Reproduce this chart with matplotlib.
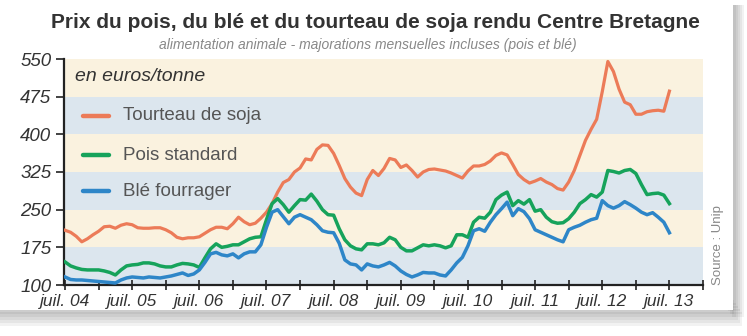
import matplotlib
matplotlib.use("Agg")
import matplotlib.pyplot as plt
from matplotlib import font_manager as fm
from matplotlib.lines import Line2D
from matplotlib.patches import Rectangle

names = {f.name for f in fm.fontManager.ttflist}
NARROW = "Liberation Sans Narrow" if "Liberation Sans Narrow" in names else "Liberation Sans"

# ---------------- data (monthly, juil. 2004 -> juil. 2013) ----------------
soja = [209, 205, 197, 186, 192, 200, 207, 216, 217, 213, 219, 222,
        220, 214, 213, 213, 214, 214, 210, 204, 195, 192, 194, 194,
        196, 203, 210, 215, 215, 212, 222, 235, 226, 220, 223, 233,
        245, 262, 285, 304, 310, 325, 333, 351, 349, 370, 379, 378,
        362, 338, 312, 295, 283, 278, 310, 328, 318, 332, 352, 349,
        334, 339, 328, 315, 325, 330, 331, 329, 327, 323, 318, 313,
        327, 337, 337, 340, 347, 358, 363, 359, 340, 320, 310, 303,
        307, 312, 305, 300, 292, 289, 305, 328, 358, 388, 410, 430,
        485, 545, 525, 490, 464, 459, 440, 440, 445, 447, 448, 446,
        486]
pois = [146, 138, 134, 131, 130, 130, 130, 128, 125, 120, 130, 138,
        140, 141, 144, 144, 142, 138, 136, 136, 140, 143, 142, 140,
        135, 154, 172, 182, 175, 177, 180, 180, 186, 192, 195, 196,
        230, 262, 272, 260, 245, 258, 270, 269, 281, 267, 250, 240,
        239, 212, 190, 178, 172, 170, 182, 182, 180, 184, 195, 190,
        175, 168, 168, 174, 180, 178, 180, 178, 174, 178, 200, 200,
        195, 225, 235, 233, 245, 270, 279, 285, 258, 268, 261, 270,
        247, 250, 235, 226, 223, 224, 232, 245, 262, 270, 280, 275,
        285, 328, 326, 323, 328, 330, 322, 300, 280, 282, 283, 279,
        262]
ble = [116, 111, 110, 110, 109, 108, 107, 106, 105, 104, 110, 114,
       116, 115, 114, 116, 115, 114, 116, 118, 121, 124, 119, 122,
       130, 145, 162, 165, 160, 158, 162, 154, 162, 166, 166, 180,
       215, 245, 250, 236, 222, 235, 240, 235, 230, 220, 208, 205,
       204, 183, 150, 142, 140, 130, 142, 138, 136, 140, 145, 138,
       128, 121, 116, 120, 125, 124, 124, 120, 118, 130, 144, 155,
       178, 208, 212, 207, 225, 240, 252, 265, 238, 252, 246, 232,
       210, 205, 200, 195, 190, 186, 210, 215, 219, 225, 230, 233,
       268, 258, 253, 258, 266, 260, 253, 245, 240, 244, 235, 225,
       204]
series_names = ["Tourteau de soja", "Pois standard", "Blé fourrager"]
year_labels = ["juil. 04", "juil. 05", "juil. 06", "juil. 07", "juil. 08",
               "juil. 09", "juil. 10", "juil. 11", "juil. 12", "juil. 13"]
y_ticks = [100, 175, 250, 325, 400, 475, 550]

C_SOJA, C_POIS, C_BLE = "#EC7B58", "#16A35B", "#2E86C8"
CREAM, LBLUE = "#FAF2DF", "#DCE6EE"

W, H = 747, 336
fig = plt.figure(figsize=(W / 100, H / 100), dpi=100)
fig.patch.set_facecolor("white")

# panel shadow
bg = fig.add_axes([0, 0, 1, 1], zorder=-10)
bg.set_xlim(0, W); bg.set_ylim(H, 0); bg.axis("off")
bg.add_patch(Rectangle((0, 0), W, H, color="white"))
for k in range(5):
    bg.add_patch(Rectangle((0, 300 + k * 3), 734 + k * 2, 14, color="black", alpha=0.05, lw=0))
    bg.add_patch(Rectangle((724 + k * 2, 5), 12, 300 + k * 3, color="black", alpha=0.05, lw=0))
bg.add_patch(Rectangle((0, 0), 733, 310, color="white", lw=0))

L, R, B, T = 64, 703, 285, 59
ax = fig.add_axes([L / W, 1 - B / H, (R - L) / W, (B - T) / H])
x = list(range(len(soja)))
ax.set_xlim(-0.18, 113.9)
ax.set_ylim(100, 550)

for i in range(len(y_ticks) - 1):
    col = LBLUE if i % 2 == 0 else CREAM
    ax.axhspan(y_ticks[i], y_ticks[i + 1], color=col, lw=0, zorder=0)

ax.plot(x, soja, color=C_SOJA, lw=2.3, zorder=3, solid_joinstyle="round")
ax.plot(x, pois, color=C_POIS, lw=2.5, zorder=4, solid_joinstyle="round")
ax.plot(x, ble, color=C_BLE, lw=2.5, zorder=5, solid_joinstyle="round")

for s in ["top", "right"]:
    ax.spines[s].set_visible(False)
for s in ["left", "bottom"]:
    ax.spines[s].set_color("#222222")
    ax.spines[s].set_linewidth(1.6)

ax.set_yticks(y_ticks)
ax.set_yticklabels([str(v) for v in y_ticks], fontfamily=NARROW, style="italic",
                   fontsize=13.5, color="#333333")
ax.tick_params(axis="y", length=6, width=1.2, color="#222222", pad=3)

ax.set_xticks(list(range(0, 115, 6)))
ax.set_xticklabels([year_labels[i // 2] if i % 2 == 0 else "" for i in range(20)],
                   fontfamily=NARROW, style="italic", fontsize=12.5, color="#333333")
ax.tick_params(axis="x", direction="inout", length=7, width=1.2, color="#222222", pad=3)

# legend
ax.text(0.017, 0.923, "en euros/tonne", transform=ax.transAxes, fontfamily=NARROW,
        style="italic", fontsize=14, color="#333333", va="center", ha="left")
leg_y = [116, 155, 191]
for name, col, yy in zip(series_names, [C_SOJA, C_POIS, C_BLE], leg_y):
    yf = 1 - yy / H
    fig.add_artist(Line2D([83 / W, 109 / W], [yf, yf], color=col, lw=3.2,
                          solid_capstyle="round"))
    fig.text(123 / W, yf, name, fontfamily=NARROW, fontsize=13.5, color="#555555",
             va="center", ha="left")

fig.text(375 / W, 1 - 22 / H, "Prix du pois, du blé et du tourteau de soja rendu Centre Bretagne",
         fontfamily=NARROW, fontweight="bold", fontsize=15, color="#333333",
         ha="center", va="center")
fig.text(368 / W, 1 - 45 / H, "alimentation animale - majorations mensuelles incluses (pois et blé)",
         fontfamily=NARROW, style="italic", fontsize=10, color="#888888",
         ha="center", va="center")
fig.text(718 / W, 1 - 285 / H, "Source : Unip", rotation=90, fontfamily=NARROW,
         fontsize=9.5, color="#888888", ha="center", va="bottom")

fig.savefig("out.png", dpi=100, facecolor="white")
